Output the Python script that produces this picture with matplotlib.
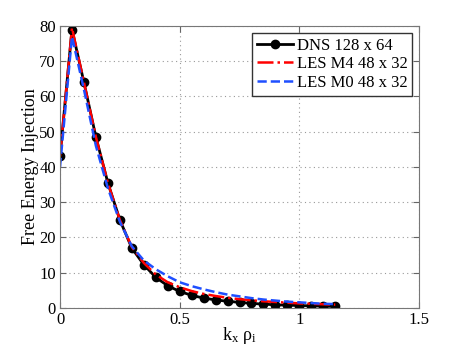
import matplotlib
matplotlib.use('Agg')
import matplotlib.pyplot as plt
import numpy as np

plt.rcParams['font.family'] = ['Liberation Serif', 'DejaVu Serif']
plt.rcParams['mathtext.fontset'] = 'custom'
plt.rcParams['mathtext.rm'] = 'Liberation Serif'
plt.rcParams['mathtext.it'] = 'Liberation Serif'

kx = [0.0, 0.05, 0.1, 0.15, 0.2, 0.25, 0.3, 0.35, 0.4, 0.45, 0.5, 0.55,
      0.6, 0.65, 0.7, 0.75, 0.8, 0.85, 0.9, 0.95, 1.0, 1.05, 1.1, 1.15]
dns = [43, 79, 64, 48.5, 35.5, 25, 17, 12.3, 8.7, 6.3, 4.7, 3.6,
       2.8, 2.3, 1.9, 1.6, 1.3, 1.1, 0.9, 0.8, 0.7, 0.6, 0.5, 0.45]
les_m4 = [43, 79.5, 64, 48.5, 35.5, 25, 17.3, 12.8, 9.5, 7.3, 5.9, 4.8,
          4.0, 3.4, 2.9, 2.5, 2.2, 1.9, 1.7, 1.5, 1.3, 1.2, 1.05, 0.95]
les_m0 = [40, 77, 62, 46, 34, 24.5, 17.5, 13.5, 11, 9, 7.3, 6.2,
          5.3, 4.5, 3.8, 3.3, 2.8, 2.4, 2.1, 1.8, 1.6, 1.4, 1.2, 1.1]

fig = plt.figure(figsize=(4.63, 3.49), dpi=100)
ax = fig.add_axes([0.1296, 0.1175, 0.7754, 0.808])

ax.plot(kx, dns, 'k-o', lw=2, ms=6, label='DNS 128 x 64')
ax.plot(kx, les_m4, '-.', color='red', lw=1.8, label='LES M4 48 x 32')
ax.plot(kx, les_m0, '--', color='#1f4fff', lw=1.8, label='LES M0 48 x 32')

ax.set_xlim(0, 1.5)
ax.set_ylim(0, 80)
ax.set_xticks([0, 0.5, 1, 1.5])
ax.set_xticklabels(['0', '0.5', '1', '1.5'])
ax.set_yticks(np.arange(0, 81, 10))
ax.grid(True, linestyle=(0, (1, 3)), color='#999999', lw=0.8)
ax.tick_params(direction='in', top=True, right=True, labelsize=12, length=4,
               color='#666666', pad=3)
for s in ax.spines.values():
    s.set_color('#777777')

ax.set_xlabel(r'$\mathregular{k_x\ \rho_i}$', fontsize=13, labelpad=-2)
ax.set_ylabel('Free Energy Injection', fontsize=13, labelpad=0)

leg = ax.legend(loc='upper right', fontsize=12, fancybox=False,
                framealpha=1, edgecolor='#333333', borderpad=0.3,
                labelspacing=0.15, handlelength=2.2, handletextpad=0.2,
                borderaxespad=0.4)
leg.get_frame().set_linewidth(1)

fig.savefig('out.png', dpi=100)
